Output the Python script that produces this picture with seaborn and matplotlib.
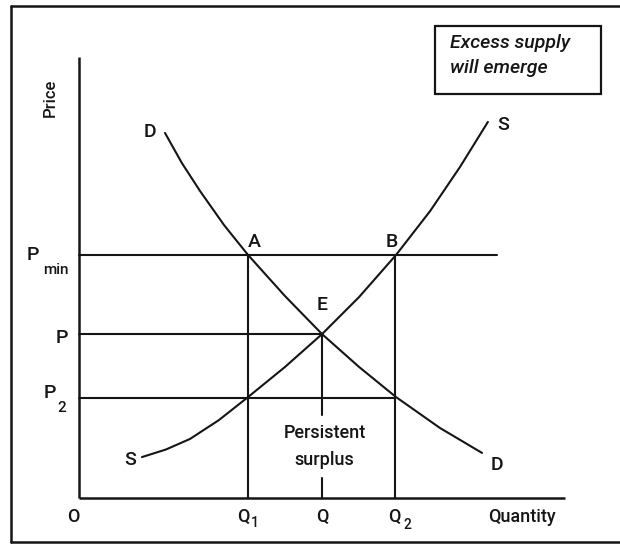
import numpy as np
import pandas as pd
import matplotlib
matplotlib.use("Agg")
import matplotlib.pyplot as plt
from matplotlib.lines import Line2D
from matplotlib.patches import Rectangle
import seaborn as sns

# ---- data (arbitrary units) ----
q1, q_eq, q2 = 6.9, 9.9, 12.9
p_min, p_eq, p2 = 9.9, 6.7, 4.1

demand_q = [3.51, 4.20, 4.94, 5.92, 6.90, 8.41, 9.92, 11.43, 12.94, 14.73, 16.45]
demand_p = [14.90, 13.67, 12.53, 11.14, 9.92, 8.24, 6.69, 5.35, 4.12, 2.86, 1.84]

supply_q = [2.57, 3.55, 4.53, 5.71, 6.90, 8.41, 9.92, 11.43, 12.94, 14.33, 15.55, 16.69]
supply_p = [1.67, 1.98, 2.41, 3.18, 4.12, 5.35, 6.69, 8.20, 9.92, 11.71, 13.51, 15.35]

x_axis_end = 19.84
y_axis_end = 18.0
floor_line_end = 17.06

sns.set_theme(style="white")
plt.rcParams["font.family"] = ["Roboto", "Liberation Sans", "DejaVu Sans"]

W, H, DPI = 620, 544, 100
fig = plt.figure(figsize=(W / DPI, H / DPI), dpi=DPI)
ax = fig.add_axes([0, 0, 1, 1])
u = 24.5  # pixels per unit
ox, oy = 79, 498
ax.set_xlim(-ox / u, (W - ox) / u)
ax.set_ylim(-(H - oy) / u, oy / u)
ax.axis("off")

ink = "#151515"
lw = 1.5

# curves
dfd = pd.DataFrame({"q": demand_q, "p": demand_p})
dfs = pd.DataFrame({"q": supply_q, "p": supply_p})
sns.lineplot(data=dfd, x="q", y="p", sort=False, color=ink, lw=lw, ax=ax,
             solid_joinstyle="round")
sns.lineplot(data=dfs, x="q", y="p", sort=False, color=ink, lw=lw, ax=ax,
             solid_joinstyle="round")

# axes
ax.plot([0, 0], [0, y_axis_end], color=ink, lw=lw + 0.3, solid_capstyle="butt")
ax.plot([0, x_axis_end], [0, 0], color=ink, lw=lw + 0.3, solid_capstyle="butt")

# guide lines
ax.plot([0, floor_line_end], [p_min, p_min], color=ink, lw=lw)
ax.plot([0, q_eq], [p_eq, p_eq], color=ink, lw=lw)
ax.plot([0, q2], [p2, p2], color=ink, lw=lw)
ax.plot([q1, q1], [0, p_min], color=ink, lw=lw)
ax.plot([q2, q2], [0, p_min], color=ink, lw=lw)
ax.plot([q_eq, q_eq], [p_eq, 3.39], color=ink, lw=lw)
ax.plot([q_eq, q_eq], [0.82, 0], color=ink, lw=lw)

fs = 14
wt = "medium"


def lab(txt, xy, off, size=fs, **kw):
    kw.setdefault("fontweight", wt)
    ax.annotate(txt, xy=xy, xytext=off, textcoords="offset pixels",
                ha="center", va="center", fontsize=size, color=ink, **kw)


lab("A", (q1, p_min), (6, 13))
lab("B", (q2, p_min), (-3, 13))
lab("E", (q_eq, p_eq), (1, 29))
lab("D", (demand_q[0], demand_p[0]), (-15, 1))
lab("D", (demand_q[-1], demand_p[-1]), (15, -12))
lab("S", (supply_q[0], supply_p[0]), (-12, -3))
lab("S", (supply_q[-1], supply_p[-1]), (15, -3))

lab("P", (0, p_min), (-46, 0))
lab("min", (0, p_min), (-23, -15), size=11)
lab("P", (0, p_eq), (-17, -4))
lab("P", (0, p2), (-29, 5))
lab("2", (0, p2), (-17, -10), size=11)

lab("O", (0, 0), (-6, -19), size=13)
lab("Q", (q1, 0), (-5, -19), size=13)
lab("1", (q1, 0), (7, -25), size=10)
lab("Q", (q_eq, 0), (1, -19), size=13)
lab("Q", (q2, 0), (-1, -19), size=13)
lab("2", (q2, 0), (12, -27), size=10)
lab("Quantity", (x_axis_end, 0), (-43, -19), size=13)
lab("Price", (0, y_axis_end), (-29, -41), size=12, rotation=90)

lab("Persistent", (q_eq, 0), (3, 65), size=13)
lab("surplus", (q_eq, 0), (3, 38), size=13)

# annotation box (figure pixel layout)
ax.add_patch(Rectangle((435 / W, 1 - 94 / H), (601 - 435) / W, (94 - 26) / H,
                       transform=fig.transFigure, fill=False, ec=ink, lw=1.6))
fig.text(450 / W, 1 - 43 / H, "Excess supply", fontsize=14, style="italic",
         fontweight=wt, ha="left", va="center", color=ink)
fig.text(450 / W, 1 - 68 / H, "will emerge", fontsize=14, style="italic",
         fontweight=wt, ha="left", va="center", color=ink)

# outer frame (left, top, bottom edges)
for xs, ys in [([11 / W, 11 / W], [1 - 6 / H, 1 - 542 / H]),
               ([11 / W, 1.0], [1 - 6 / H, 1 - 6 / H]),
               ([11 / W, 1.0], [1 - 542 / H, 1 - 542 / H])]:
    fig.add_artist(Line2D(xs, ys, transform=fig.transFigure, color=ink, lw=1.8))

fig.savefig("out.png", dpi=DPI)
